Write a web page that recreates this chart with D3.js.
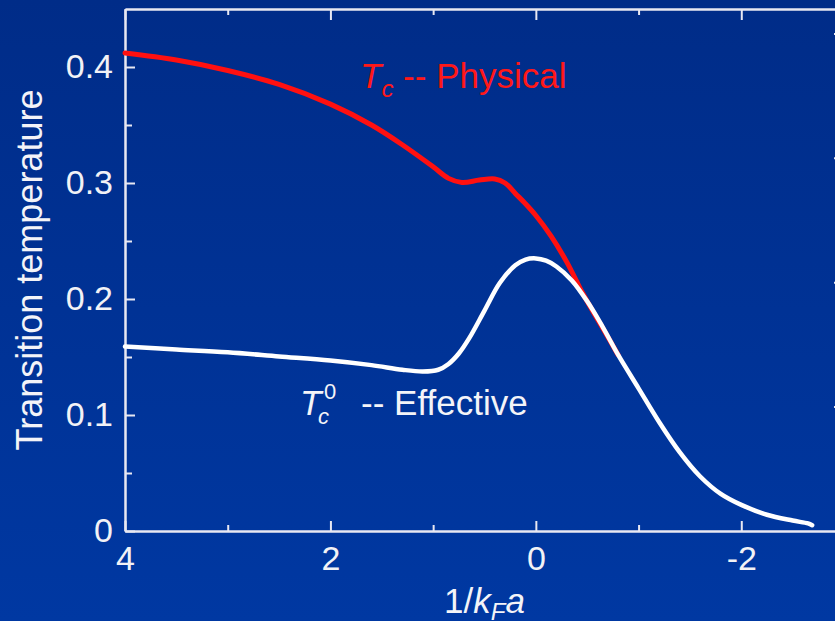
<!DOCTYPE html>
<html>
<head>
<meta charset="utf-8">
<script src="https://cdn.jsdelivr.net/npm/d3@7/dist/d3.min.js"></script>
<style>
  html, body { margin: 0; padding: 0; background: #00308f; }
  svg { display: block; }
  text { font-family: "Liberation Sans", Arial, Helvetica, sans-serif; }
</style>
</head>
<body>
<script>
// ---- Data ----
const physicalX = [4, 3.5, 3, 2.5, 2, 1.6, 1.3, 1.0, 0.85, 0.72, 0.55, 0.4, 0.3, 0.2, 0.1, 0, -0.15, -0.3, -0.45, -0.55, -0.65, -0.8];
const physicalY = [0.412, 0.406, 0.397, 0.385, 0.368, 0.350, 0.333, 0.314, 0.304, 0.3005, 0.3025, 0.3035, 0.300, 0.291, 0.282, 0.272, 0.254, 0.232, 0.206, 0.190, 0.175, 0.152];

const effectiveX = [4, 3.5, 3, 2.5, 2, 1.6, 1.3, 1.1, 0.95, 0.85, 0.75, 0.65, 0.5, 0.35, 0.2, 0.1, 0, -0.1, -0.2, -0.35, -0.5, -0.65, -0.8, -1.0, -1.2, -1.4, -1.6, -1.8, -2.0, -2.25, -2.5, -2.65, -2.69];
const effectiveY = [0.159, 0.1565, 0.154, 0.1505, 0.147, 0.143, 0.139, 0.1375, 0.139, 0.144, 0.153, 0.166, 0.190, 0.214, 0.229, 0.234, 0.235, 0.233, 0.228, 0.216, 0.198, 0.176, 0.152, 0.123, 0.094, 0.068, 0.047, 0.032, 0.0225, 0.014, 0.009, 0.0065, 0.005];

const xMajorTicks = [4, 2, 0, -2];
const xMinorTicks = [3, 1, -1];
const xTickLabels = ["4", "2", "0", "-2"];
const yMajorTicks = [0, 0.1, 0.2, 0.3, 0.4];
const yMinorTicks = [0.05, 0.15, 0.25, 0.35];
const yTickLabels = ["0", "0.1", "0.2", "0.3", "0.4"];
const rightTicks = [0.1, 0.2, 0.3, 0.4];

// ---- Layout ----
const W = 835, H = 621;
const mLeft = 125, mRight = 844, mTop = 9, mBottom = 531;

const svg = d3.select("body").append("svg").attr("width", W).attr("height", H);

const defs = svg.append("defs");
const grad = defs.append("linearGradient").attr("id", "bg").attr("x1", 0).attr("y1", 0).attr("x2", 0).attr("y2", 1);
grad.append("stop").attr("offset", "0%").attr("stop-color", "#002c88");
grad.append("stop").attr("offset", "100%").attr("stop-color", "#0038a2");
svg.append("rect").attr("width", W).attr("height", H).attr("fill", "url(#bg)");

const x = d3.scaleLinear().domain([4, -3]).range([mLeft, mRight]);
const y = d3.scaleLinear().domain([0, 0.45]).range([mBottom, mTop]);
const y2 = d3.scaleLinear().domain([0, 0.4196]).range([mBottom, mTop]);

const axisColor = "#e8e8f2";
function styleAxis(g) {
  g.selectAll("path.domain").attr("stroke", axisColor).attr("stroke-width", 2);
  g.selectAll(".tick line").attr("stroke", axisColor).attr("stroke-width", 2);
  g.selectAll(".tick text").attr("fill", "#f2f2f6").style("font-size", "34px")
    .style("font-family", '"Liberation Sans", Arial, Helvetica, sans-serif');
}

// Minor ticks
svg.append("g").attr("transform", `translate(0,${mBottom})`)
  .call(d3.axisBottom(x).tickValues(xMinorTicks).tickSize(-6).tickSizeOuter(0).tickFormat(""))
  .call(styleAxis);
svg.append("g").attr("transform", `translate(0,${mTop})`)
  .call(d3.axisTop(x).tickValues(xMinorTicks).tickSize(-6).tickSizeOuter(0).tickFormat(""))
  .call(styleAxis);
svg.append("g").attr("transform", `translate(${mLeft},0)`)
  .call(d3.axisLeft(y).tickValues(yMinorTicks).tickSize(-7).tickSizeOuter(0).tickFormat(""))
  .call(styleAxis);

// Major ticks
svg.append("g").attr("transform", `translate(0,${mBottom})`)
  .call(d3.axisBottom(x).tickValues(xMajorTicks).tickSize(-10).tickSizeOuter(0).tickPadding(15)
    .tickFormat((d, i) => xTickLabels[i]))
  .call(styleAxis);
svg.append("g").attr("transform", `translate(0,${mTop})`)
  .call(d3.axisTop(x).tickValues(xMajorTicks).tickSize(-11).tickSizeOuter(0).tickFormat(""))
  .call(styleAxis);
svg.append("g").attr("transform", `translate(${mLeft},0)`)
  .call(d3.axisLeft(y).tickValues(yMajorTicks).tickSize(-10).tickSizeOuter(0).tickPadding(12)
    .tickFormat((d, i) => yTickLabels[i]))
  .call(styleAxis);
svg.append("g").attr("transform", `translate(${mRight},0)`)
  .call(d3.axisRight(y2).tickValues(rightTicks).tickSize(-10).tickSizeOuter(0).tickFormat(""))
  .call(styleAxis);

// ---- Curves ----
const line = d3.line().x(d => x(d[0])).y(d => y(d[1])).curve(d3.curveCatmullRom.alpha(0.5));

svg.append("path")
  .datum(physicalX.map((v, i) => [v, physicalY[i]]))
  .attr("d", line).attr("fill", "none").attr("stroke", "#ff1010")
  .attr("stroke-width", 5).attr("stroke-linecap", "round");

svg.append("path")
  .datum(effectiveX.map((v, i) => [v, effectiveY[i]]))
  .attr("d", line).attr("fill", "none").attr("stroke", "#ffffff")
  .attr("stroke-width", 4.5).attr("stroke-linecap", "round");

// ---- Labels ----
const red = "#ff1818";
const tRed = svg.append("text").attr("x", 360).attr("y", 88).attr("fill", red).style("font-size", "35px");
tRed.append("tspan").text("T").style("font-style", "italic");
tRed.append("tspan").text("c").style("font-style", "italic").style("font-size", "24px").attr("dy", 9);
tRed.append("tspan").text(" -- Physical").attr("dy", -9);

const wc = "#f4f4f8";
svg.append("text").attr("x", 300).attr("y", 415).attr("fill", wc).style("font-size", "35px")
  .style("font-style", "italic").text("T");
svg.append("text").attr("x", 324).attr("y", 399).attr("fill", wc).style("font-size", "22px").text("0");
svg.append("text").attr("x", 318).attr("y", 424).attr("fill", wc).style("font-size", "22px")
  .style("font-style", "italic").text("c");
svg.append("text").attr("x", 361).attr("y", 415).attr("fill", wc).style("font-size", "35px").text("-- Effective");

// Axis titles
const xt = svg.append("text").attr("x", (mLeft + mRight) / 2).attr("y", 613).attr("text-anchor", "middle")
  .attr("fill", wc).style("font-size", "35px");
xt.append("tspan").text("1/");
xt.append("tspan").text("k").style("font-style", "italic");
xt.append("tspan").text("F").style("font-style", "italic").style("font-size", "24px").attr("dy", 7);
xt.append("tspan").text("a").style("font-style", "italic").attr("dy", -7);

svg.append("text")
  .attr("transform", `translate(42,${(mTop + mBottom) / 2}) rotate(-90)`)
  .attr("text-anchor", "middle").attr("fill", wc).style("font-size", "36px")
  .text("Transition temperature");
</script>
</body>
</html>
